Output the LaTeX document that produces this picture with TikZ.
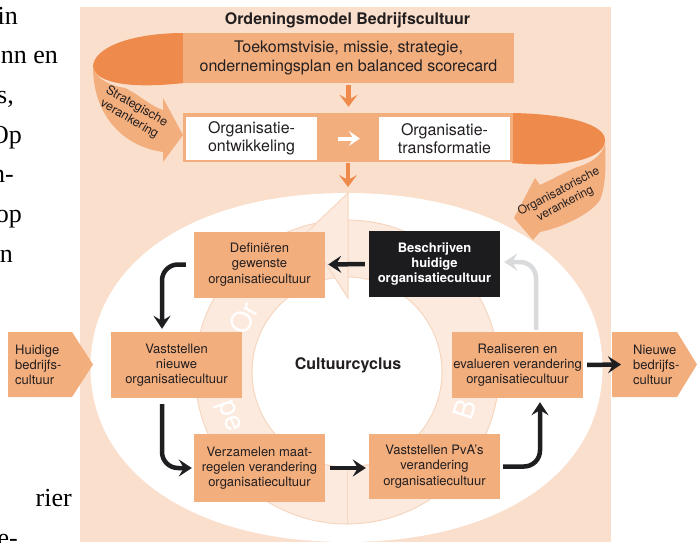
\documentclass[tikz,border=0pt]{standalone}
\usepackage{fontspec}
\setmainfont{TeX Gyre Heros}
\newfontfamily\bookfont{Liberation Serif}
\usetikzlibrary{arrows.meta,calc}

\definecolor{bgpeach}{RGB}{250,223,204}
\definecolor{boxorange}{RGB}{243,174,126}
\definecolor{darkorange}{RGB}{238,139,76}
\definecolor{ringfill}{RGB}{252,234,222}
\definecolor{ringline}{RGB}{247,214,192}
\definecolor{boxblack}{RGB}{28,28,31}
\definecolor{arrowblack}{RGB}{30,30,33}
\definecolor{arrowgrey}{RGB}{217,218,220}
\definecolor{textdark}{RGB}{35,31,32}

\begin{document}
\begin{tikzpicture}[x=1pt,y=-1pt,
  every node/.style={inner sep=0pt, text=textdark},
  booktext/.style={font=\bookfont\fontsize{26}{26}\selectfont, anchor=base east, text=black},
  cycbox/.style={fill=boxorange, minimum width=131pt, minimum height=66pt, align=center,
    font=\fontsize{13}{15.3}\selectfont},
  darkbox/.style={cycbox, fill=boxblack, text=white, font=\bfseries\fontsize{13}{15.3}\selectfont},
  whitebox/.style={fill=white, minimum width=131pt, minimum height=43pt, align=center,
    font=\fontsize{16}{18.5}\selectfont},
  sidetext/.style={anchor=west, align=left, font=\fontsize{13}{15}\selectfont},
  curltext/.style={align=center, font=\fontsize{12.5}{14.5}\selectfont},
  ringtext/.style={text=white, font=\fontsize{28}{28}\selectfont},
  flowarrow/.style={draw=arrowblack, line width=4.5pt, rounded corners=16pt,
    -{Stealth[length=13pt,width=17pt,inset=5pt]}},
  greyarrow/.style={flowarrow, draw=arrowgrey},
  orangearrow/.style={draw=darkorange, line width=4.5pt,
    -{Stealth[length=12pt,width=18pt,inset=5pt]}},
  whitearrow/.style={draw=white, line width=4pt,
    -{Stealth[length=11pt,width=15pt,inset=4.5pt]}}
]
\useasboundingbox (0,0) rectangle (697,542);

% running text of the page column
\node[booktext] (b1) at (18,24) {in};
\node[booktext] (b2) at (58,63.7) {nn en};
\node[booktext] (b3) at (14,103.4) {s,};
\node[booktext] (b4) at (22,143.1) {Op};
\node[booktext] (b5) at (14,182.8) {n-};
\node[booktext] (b6) at (22,222.5) {op};
\node[booktext] (b7) at (13,262.2) {n};
\node[booktext] (b8) at (72,506) {rier};
\node[booktext] (b9) at (18,546) {ie-};

% panel
\fill[bgpeach] (80,7) rectangle (611,542);
\node[font=\bfseries\fontsize{16}{16}\selectfont] (title) at (347.5,20) {Ordeningsmodel Bedrijfscultuur};

% left curl: strategische verankering
\fill[darkorange] (184,33) .. controls (130,33) and (93,48) .. (93,67)
  .. controls (95,80) and (120,90) .. (184,83) -- cycle;
\fill[boxorange] (93,67) .. controls (95,78) and (110,86) .. (125,88)
  .. controls (140,95) and (150,106) .. (163,110) -- (163,98) -- (183,135)
  -- (163,162) -- (163,152) .. controls (120,146) and (93,112) .. (93,67) -- cycle;
\node[curltext, rotate=-30] (strat) at (133,113) {Strategische\\verankering};

% right curl: organisatorische verankering
\fill[darkorange] (512,113) .. controls (570,114) and (605,125) .. (605,140)
  .. controls (605,158) and (570,168) .. (512,163) -- cycle;
\fill[boxorange] (605,140) .. controls (606,165) and (606,185) .. (600,200)
  .. controls (590,215) and (560,228) .. (540,232) -- (533,240) -- (514,218)
  -- (535,178) -- (540,185) .. controls (555,178) and (565,172) .. (577,167)
  .. controls (595,162) and (605,152) .. (605,140) -- cycle;
\node[curltext, rotate=28, font=\fontsize{12}{14}\selectfont] (organ) at (562,198) {Organisatorische\\verankering};

% strategy and development bars
\node[fill=boxorange, minimum width=331pt, minimum height=50pt, align=center,
  font=\fontsize{16}{19.3}\selectfont] (visie) at (348.5,58)
  {Toekomstvisie, missie, strategie,\\ondernemingsplan en balanced scorecard};
\node[fill=boxorange, minimum width=330pt, minimum height=49pt] (band) at (348,137.5) {};
\node[whitebox] (ontw) at (251.5,138.5) {Organisatie-\\ontwikkeling};
\node[whitebox] (trans) at (444.5,138.5) {Organisatie-\\transformatie};
\draw[whitearrow, shorten <=21pt, shorten >=19pt] (ontw.east) -- (trans.west);

% culture cycle field
\fill[white] (602.5,367.5) .. controls (602.5,262.8) and (500.1,193) .. (346.5,193)
  .. controls (192.9,193) and (90.5,262.8) .. (90.5,367.5)
  .. controls (90.5,472.2) and (192.9,542) .. (346.5,542)
  .. controls (500.1,542) and (602.5,472.2) .. (602.5,367.5) -- cycle;
\coordinate (cyctop) at (348,193);
\draw[orangearrow, shorten <=2pt, shorten >=6pt] (visie.south) -- (visie.south |- band.north);
\draw[orangearrow, shorten <=1pt, shorten >=6pt] (band.south) -- (cyctop);

% ring arrow
\coordinate (rc) at (347,372);
\fill[ringfill, even odd rule] (rc) circle[radius=152] (rc) circle[radius=95];
\draw[ringline, line width=1pt] (rc) circle[radius=152] (rc) circle[radius=95];
\filldraw[fill=ringfill, draw=ringline, line width=1pt] (348,193) -- (306,233) -- (348,298) -- cycle;
\draw[ringline, line width=1pt] (347,467) -- (347,524);
\node[ringtext, rotate=62] (ringor) at (244,318) {Or};
\node[ringtext, rotate=-70.5] (ringpe) at (228,417) {pe};
\node[ringtext, rotate=72] (ringb) at (465,409) {B};

\node[font=\bfseries\fontsize{16}{16}\selectfont] (cyc) at (348,365) {Cultuurcyclus};

% cycle steps
\node[cycbox] (def) at (259.5,264.5) {Definiëren\\gewenste\\organisatiecultuur};
\node[darkbox] (besch) at (434.5,264) {Beschrijven\\huidige\\organisatiecultuur};
\node[cycbox] (vastn) at (176.5,365) {Vaststellen\\nieuwe\\organisatiecultuur};
\node[cycbox] (real) at (517.5,365) {Realiseren en\\evalueren verandering\\organisatiecultuur};
\node[cycbox, minimum height=68pt] (verz) at (259.5,468) {Verzamelen maat-\\regelen verandering\\organisatiecultuur};
\node[cycbox, minimum height=65pt] (pva) at (434.5,466.5) {Vaststellen PvA’s\\verandering\\organisatiecultuur};

% current and new culture
\fill[boxorange] (8,332) -- (72,332) -- (93,364.5) -- (72,397) -- (8,397) -- cycle;
\node[sidetext] (huidig) at (15,364.5) {Huidige\\bedrijfs-\\cultuur};
\fill[boxorange] (612,332) -- (677,332) -- (697,364.5) -- (677,397) -- (612,397) -- cycle;
\coordinate (nieuwin) at (612,364.5);
\node[sidetext] (nieuw) at (633,364.5) {Nieuwe\\bedrijfs-\\cultuur};

% flow of the cycle
\draw[flowarrow, shorten <=4pt, shorten >=3pt] (besch.west) -- (def.east);
\draw[flowarrow] ([xshift=-8pt]def.west) -| ([xshift=-14.5pt,yshift=3pt]vastn.north);
\draw[flowarrow] ([xshift=-14.5pt,yshift=-6pt]vastn.south) |- ([xshift=-2pt]verz.west);
\draw[flowarrow, shorten <=5pt, shorten >=3pt] (verz.east) -- (verz.east -| pva.west);
\draw[flowarrow] ([xshift=3pt]pva.east) -| ([xshift=22.5pt,yshift=-4pt]real.south);
\draw[greyarrow] ([xshift=18.5pt,yshift=2pt]real.north) |- ([xshift=4pt,yshift=2pt]besch.east);
\draw[flowarrow, shorten <=4pt] (real.east) -- ([xshift=9pt]nieuwin);
\end{tikzpicture}
\end{document}
